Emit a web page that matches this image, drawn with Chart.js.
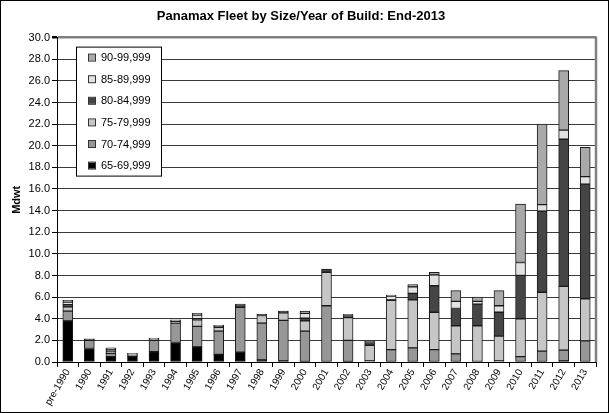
<!doctype html>
<html>
  <head>
    <title>Panamax Fleet by Size/Year of Build</title>
    <style>
      html, body { margin: 0; padding: 0; background: #fff; }
      #wrap { width: 609px; height: 413px; }
    </style>
  </head>
  <body>
    <div id="wrap">
      <canvas id="myChart" width="609" height="413"></canvas>
    </div>
  </body>
  <script src="https://cdn.jsdelivr.net/npm/chart.js"></script>
  <script>
    // categories (year of build)
    const years = ['pre-1990', '1990', '1991', '1992', '1993', '1994', '1995', '1996', '1997', '1998',
      '1999', '2000', '2001', '2002', '2003', '2004', '2005', '2006', '2007', '2008',
      '2009', '2010', '2011', '2012', '2013'];

    // Mdwt per size band
    const s65_69 = [3.8, 1.25, 0.5, 0.5, 0.95, 1.8, 1.4, 0.7, 0.9, 0.2, 0.1, 0.05, 0, 0.05, 0, 0, 0, 0, 0, 0, 0, 0, 0, 0.1, 0];
    const s70_74 = [0.9, 0.75, 0.3, 0.15, 1.05, 1.8, 1.9, 2.15, 4.15, 3.4, 3.75, 2.8, 5.2, 1.95, 0.1, 1.15, 1.3, 1.15, 0.75, 0.05, 0.1, 0.5, 1.0, 1.0, 1.95];
    const s75_79 = [0.4, 0.05, 0.15, 0.1, 0.1, 0.15, 0.6, 0.35, 0.05, 0.7, 0.7, 0.95, 3.1, 2.1, 1.45, 4.55, 4.45, 3.45, 2.6, 3.3, 2.3, 3.5, 5.45, 5.9, 3.9];
    const s80_84 = [0.2, 0.05, 0.1, 0, 0.05, 0.05, 0.1, 0.1, 0.2, 0.1, 0.15, 0.25, 0.3, 0.2, 0.25, 0.05, 0.6, 2.45, 1.6, 2.0, 2.2, 4.0, 7.5, 13.6, 10.6];
    const s85_89 = [0.25, 0, 0.1, 0, 0.05, 0.05, 0.35, 0.05, 0, 0, 0, 0.45, 0, 0.1, 0.1, 0.35, 0.6, 1.0, 0.65, 0.25, 0.6, 1.2, 0.6, 0.85, 0.7];
    const s90_99 = [0.15, 0.05, 0.15, 0.05, 0, 0.05, 0.15, 0.05, 0.05, 0, 0, 0.2, 0, 0, 0, 0.1, 0.2, 0.25, 1.0, 0.4, 1.4, 5.4, 7.45, 5.5, 2.7];

    const yTicks = { min: 0, max: 30, step: 2 };

    const FONT = "'Liberation Sans', Arial, sans-serif";

    function band(label, data, color) {
      return {
        label: label,
        data: data,
        backgroundColor: color,
        borderColor: '#1a1a1a',
        borderWidth: 1,
        borderSkipped: false,
        barThickness: 10
      };
    }

    // white page + outer frame + right edge of plot
    const frame = {
      id: 'frame',
      beforeDraw(chart) {
        const c = chart.ctx;
        c.save();
        c.fillStyle = '#fff';
        c.fillRect(0, 0, chart.width, chart.height);
        c.restore();
      },
      afterDraw(chart) {
        const c = chart.ctx;
        const a = chart.chartArea;
        c.save();
        c.strokeStyle = '#808080';
        c.lineWidth = 2.5;
        c.beginPath();
        c.moveTo(a.right, a.top - 1);
        c.lineTo(a.right, a.bottom);
        c.stroke();
        c.strokeStyle = '#000';
        c.lineWidth = 1;
        c.strokeRect(0.5, 0.5, chart.width - 1, chart.height - 1);
        c.restore();
      }
    };

    // boxed legend inside the plot, top left, highest band first
    const boxLegend = {
      id: 'boxLegend',
      afterDraw(chart) {
        const c = chart.ctx;
        const a = chart.chartArea;
        const x = a.left + 19, y = a.top + 9, w = 85, h = 129;
        c.save();
        c.fillStyle = '#fff';
        c.fillRect(x, y, w, h);
        c.strokeStyle = '#000';
        c.lineWidth = 1;
        c.strokeRect(x + 0.5, y + 0.5, w, h);
        c.font = '11px ' + FONT;
        c.textBaseline = 'middle';
        const sets = chart.data.datasets.slice().reverse();
        sets.forEach((ds, i) => {
          const yy = y + 11 + i * 21.6;
          c.fillStyle = ds.backgroundColor;
          c.fillRect(x + 13, yy - 3, 6, 6);
          c.strokeStyle = '#333';
          c.strokeRect(x + 12.5, yy - 3.5, 7, 7);
          c.fillStyle = '#000';
          c.fillText(ds.label, x + 25, yy + 0.5);
        });
        c.restore();
      }
    };

    const ctx = document.getElementById('myChart');
    const chart = new Chart(ctx, {
      type: 'bar',
      data: {
        labels: years,
        datasets: [
          band('65-69,999', s65_69, '#000000'),
          band('70-74,999', s70_74, '#979797'),
          band('75-79,999', s75_79, '#c6c6c6'),
          band('80-84,999', s80_84, '#454545'),
          band('85-89,999', s85_89, '#e2e2e2'),
          band('90-99,999', s90_99, '#a9a9a9')
        ]
      },
      plugins: [frame, boxLegend],
      options: {
        responsive: false,
        animation: false,
        layout: { padding: { left: 6, right: 13, top: 5, bottom: 4 } },
        plugins: {
          legend: { display: false },
          tooltip: { enabled: false },
          title: {
            display: true,
            text: 'Panamax Fleet by Size/Year of Build: End-2013',
            color: '#000',
            font: { family: FONT, size: 13, weight: 'bold' },
            padding: { top: 4, bottom: 13 }
          }
        },
        scales: {
          x: {
            stacked: true,
            afterFit(scale) { scale.height = 47; },
            border: { color: '#000', width: 1 },
            grid: { display: true, drawOnChartArea: false, offset: true, tickLength: 5, tickColor: '#000' },
            ticks: {
              autoSkip: false,
              minRotation: 60,
              maxRotation: 60,
              padding: 0,
              color: '#000',
              font: { family: FONT, size: 10 }
            }
          },
          y: {
            stacked: true,
            min: yTicks.min,
            max: yTicks.max,
            afterFit(scale) { scale.width = 51; },
            border: { color: '#000', width: 1 },
            grid: {
              color: (c) => c.tick && c.tick.value === yTicks.max ? '#808080' : '#3a3a3a',
              lineWidth: (c) => c.tick && c.tick.value === yTicks.max ? 2.5 : 1,
              tickLength: 5,
              tickColor: '#000'
            },
            ticks: {
              stepSize: yTicks.step,
              padding: 2,
              color: '#000',
              font: { family: FONT, size: 11 },
              callback: (v) => Number(v).toFixed(1)
            },
            title: {
              display: true,
              text: 'Mdwt',
              color: '#000',
              font: { family: FONT, size: 11, weight: 'bold' },
              padding: { top: 4, bottom: 0 }
            }
          }
        }
      }
    });
  </script>
</html>
